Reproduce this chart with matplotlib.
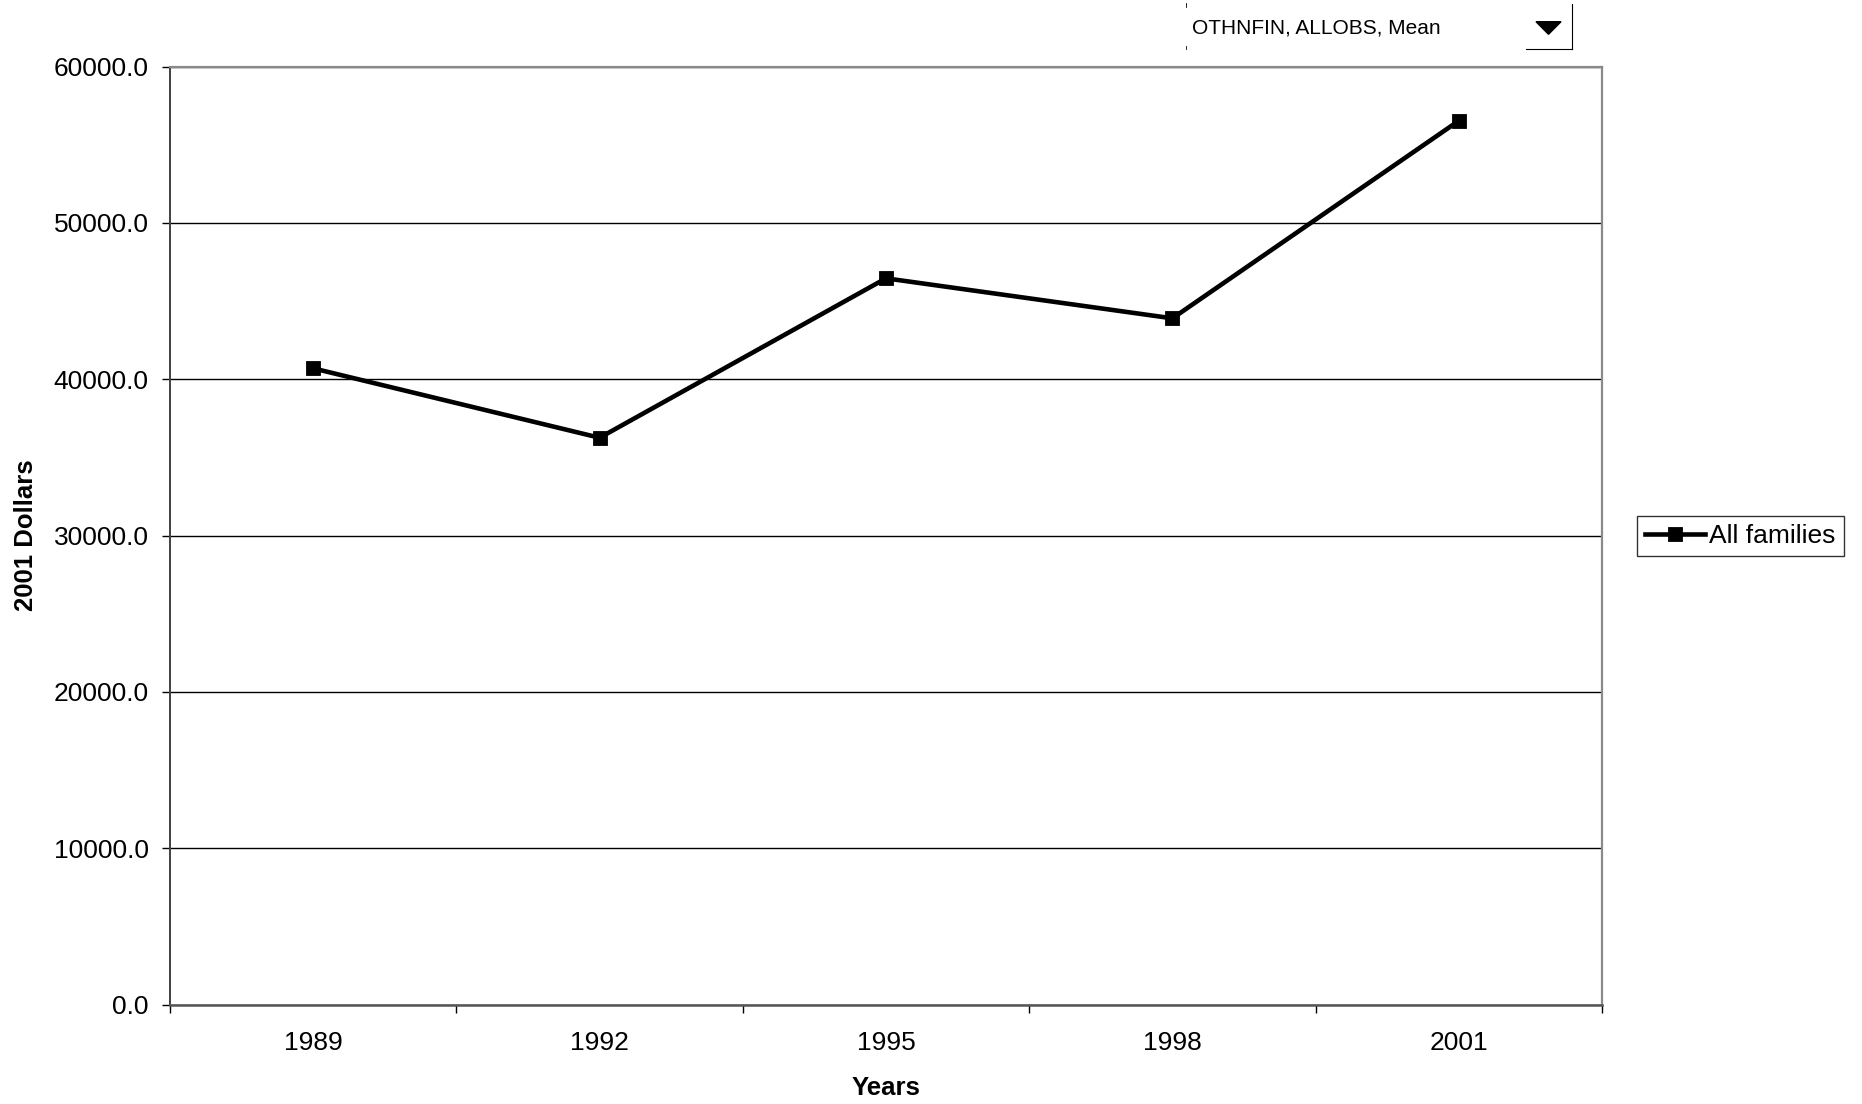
import matplotlib.pyplot as plt
from matplotlib.lines import Line2D
from matplotlib.patches import Polygon

plt.rcParams['font.family'] = ['Liberation Sans', 'DejaVu Sans']

# Mean OTHNFIN, all families, 2001 dollars
years = ['1989', '1992', '1995', '1998', '2001']
values = [40700, 36260, 46460, 43900, 56540]
yticks = [0, 10000, 20000, 30000, 40000, 50000, 60000]

W, H = 1862, 1104
fig = plt.figure(figsize=(W / 100, H / 100), dpi=100)
ax = fig.add_axes([170 / W, 1 - 1004.5 / H, 1432 / W, 937.8 / H])

x = list(range(len(years)))
ax.plot(x, values, '-ks', lw=3.3, markersize=10.5, mew=0.6, label='All families',
        zorder=3)

ax.set_xlim(-0.5, len(years) - 0.5)
ax.set_ylim(0, 60000)
ax.set_yticks(yticks)
ax.set_yticklabels([f'{v:.1f}' for v in yticks])
ax.yaxis.grid(True, color='black', lw=1)
ax.set_axisbelow(True)

# Excel style: ticks between categories, labels centred on them
ax.set_xticks([i - 0.5 for i in range(len(years) + 1)])
ax.set_xticklabels([])
ax.set_xticks(x, minor=True)
ax.set_xticklabels(years, minor=True)
ax.tick_params(axis='x', which='major', direction='out', length=5.8, width=1)
ax.tick_params(axis='x', which='minor', length=0, pad=19, labelsize=19)
ax.tick_params(axis='y', direction='out', length=5.8, width=1, pad=9.5,
               labelsize=19)

for side in ['top', 'right']:
    ax.spines[side].set_color('#8a8a8a')
    ax.spines[side].set_linewidth(1.6)
ax.spines['bottom'].set_color('#555555')
ax.spines['bottom'].set_linewidth(1.8)
ax.spines['left'].set_color('#404040')
ax.spines['left'].set_linewidth(1.4)

fig.text(886 / W, 1 - 1088 / H, 'Years', fontsize=18.5, fontweight='bold',
         ha='center', va='center')
fig.text(26 / W, 1 - 535.6 / H, '2001 Dollars', fontsize=18.5, fontweight='bold',
         rotation=90, ha='center', va='center')

leg = fig.legend(loc='center left', bbox_to_anchor=(1636.7 / W, 1 - 536 / H),
                 fontsize=19, frameon=True, fancybox=False, borderpad=0.3,
                 handlelength=2.3, handletextpad=0.15, borderaxespad=0)
leg.get_frame().set_edgecolor('black')
leg.get_frame().set_linewidth(1)

# pivot field drop-down at the top
fig.text(1192 / W, 1 - 27.8 / H, 'OTHNFIN, ALLOBS, Mean', fontsize=15,
         ha='left', va='center')
fig.add_artist(Line2D([1572 / W, 1572 / W], [1 - 4 / H, 1 - 49.3 / H],
                      color='black', lw=0.8, transform=fig.transFigure))
fig.add_artist(Line2D([1526 / W, 1572 / W], [1 - 49.3 / H, 1 - 49.3 / H],
                      color='black', lw=0.8, transform=fig.transFigure))
fig.add_artist(Line2D([1185.5 / W, 1185.5 / W], [1 - 3 / H, 1 - 7 / H],
                      color='black', lw=0.6, transform=fig.transFigure))
fig.add_artist(Line2D([1185.5 / W, 1185.5 / W], [1 - 46 / H, 1 - 49.3 / H],
                      color='black', lw=0.6, transform=fig.transFigure))
fig.add_artist(Polygon([[1536 / W, 1 - 21.7 / H], [1561 / W, 1 - 21.7 / H],
                        [1548.5 / W, 1 - 34.3 / H]], closed=True,
                       color='black', transform=fig.transFigure))

fig.savefig('out.png', dpi=100)
